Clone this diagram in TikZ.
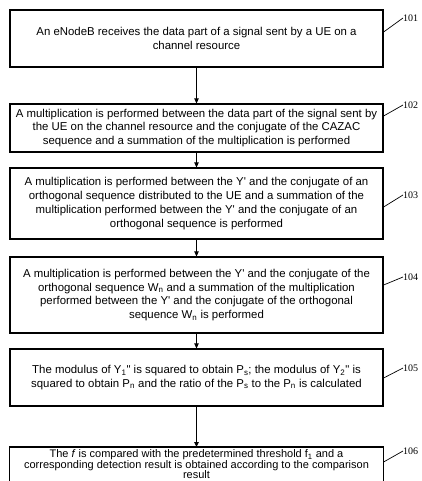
\documentclass[tikz,border=0pt]{standalone}
\usepackage{fontspec}
\setmainfont{Liberation Sans}
\newfontfamily\labfont{Liberation Serif}
\usetikzlibrary{arrows.meta}
\begin{document}
\begin{tikzpicture}[x=1pt,y=-1pt,
  boxline/.style={draw, line width=1.2pt},
  stepbox/.style={boxline, minimum width=373pt, inner sep=0pt, align=center,
    font=\fontsize{11.4}{13.8}\selectfont},
  flow/.style={line width=0.9pt, -{Triangle[length=5pt,width=4.5pt]}},
  leader/.style={line width=0.7pt},
  reflab/.style={anchor=west, inner sep=0pt, font=\labfont\fontsize{10}{12}\selectfont}]
\useasboundingbox (0,0) rectangle (421,481);
\node[stepbox, minimum height=57pt] (b1) at (196.5,38.5)
  {An eNodeB receives the data part of a signal sent by a UE on a\\channel resource};
\node[stepbox, minimum height=48pt] (b2) at (196.5,128)
  {A multiplication is performed between the data part of the signal sent by\\the UE on the channel resource and the conjugate of the CAZAC\\sequence and a summation of the multiplication is performed};
\node[stepbox, minimum height=71pt] (b3) at (196.5,203.5)
  {A multiplication is performed between the Y\textquotesingle{} and the conjugate of an\\orthogonal sequence distributed to the UE and a summation of the\\multiplication performed between the Y\textquotesingle{} and the conjugate of an\\orthogonal sequence is performed};
\node[stepbox, minimum height=76pt] (b4) at (196.5,295)
  {A multiplication is performed between the Y\textquotesingle{} and the conjugate of the\\orthogonal sequence W\textsubscript{n} and a summation of the multiplication\\performed between the Y\textquotesingle{} and the conjugate of the orthogonal\\sequence W\textsubscript{n} is performed};
\node[stepbox, minimum height=57pt] (b5) at (196.5,377.5)
  {The modulus of Y\textsubscript{1}\textquotedbl{} is squared to obtain P\textsubscript{s}; the modulus of Y\textsubscript{2}\textquotedbl{} is\\squared to obtain P\textsubscript{n} and the ratio of the P\textsubscript{s} to the P\textsubscript{n} is calculated};
\node[stepbox, draw=none, anchor=north, inner ysep=2pt, font=\fontsize{11}{10.7}\selectfont] (b6) at (196.5,447)
  {The \textit{f} is compared with the predetermined threshold f\textsubscript{1} and a\\corresponding detection result is obtained according to the comparison\\result};
\draw[boxline] (b6.north west) rectangle ([yshift=-15pt]b6.south east);
\draw[flow] (b1.south) -- (b2.north);
\draw[flow] (b2.south) -- (b3.north);
\draw[flow] (b3.south) -- (b4.north);
\draw[flow] (b4.south) -- (b5.north);
\draw[flow] (b5.south) -- (b6.north);
\node[reflab] (l1) at (403,18) {101};
\node[reflab] (l2) at (403,105) {102};
\node[reflab] (l3) at (403,195) {103};
\node[reflab] (l4) at (403,277) {104};
\node[reflab] (l5) at (403,368) {105};
\node[reflab] (l6) at (403,451) {106};
\draw[leader] (b1.east |- 0,32) -- (l1.west);
\draw[leader] (b2.east |- 0,116) -- (l2.west);
\draw[leader] (b3.east |- 0,207) -- (l3.west);
\draw[leader] (b4.east |- 0,285) -- (l4.west);
\draw[leader] (b5.east |- 0,378) -- (l5.west);
\draw[leader] (b6.east |- 0,462) -- (l6.west);
\end{tikzpicture}
\end{document}
